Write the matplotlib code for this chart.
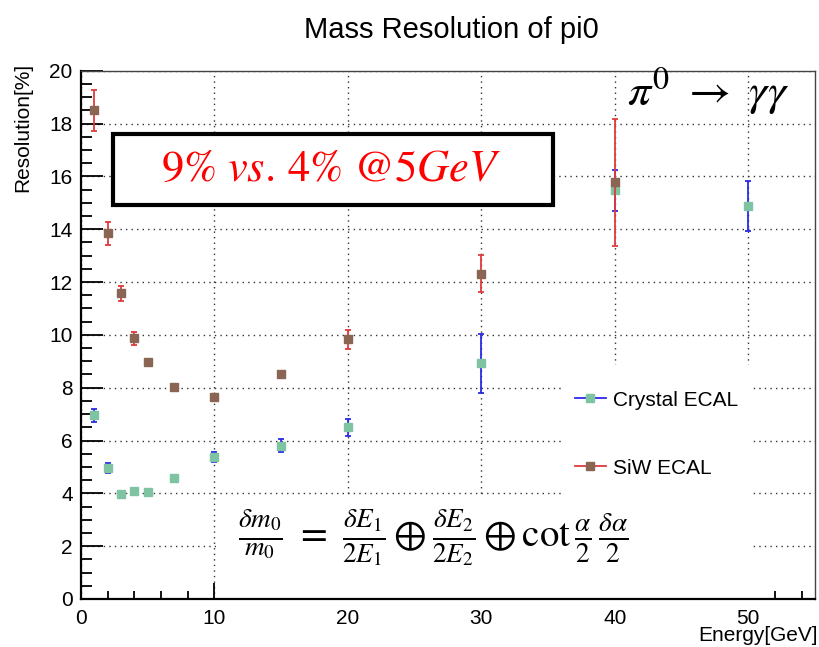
import numpy as np
import matplotlib
matplotlib.use('Agg')
from matplotlib import pyplot as plt
from matplotlib.patches import Rectangle
from matplotlib.lines import Line2D
from matplotlib.ticker import MultipleLocator

plt.rcParams['font.family'] = ['Liberation Sans', 'DejaVu Sans']
plt.rcParams['mathtext.fontset'] = 'stix'

# Crystal ECAL
crystal_e = [1, 2, 3, 4, 5, 7, 10, 15, 20, 30, 40, 50]
crystal_res = [6.95, 4.95, 3.98, 4.1, 4.04, 4.58, 5.37, 5.8, 6.5, 8.92, 15.48, 14.88]
crystal_err = [0.25, 0.18, 0.0, 0.0, 0.0, 0.13, 0.2, 0.24, 0.33, 1.12, 0.78, 0.95]

# SiW ECAL
siw_e = [1, 2, 3, 4, 5, 7, 10, 15, 20, 30, 40]
siw_res = [18.5, 13.85, 11.57, 9.87, 8.97, 8.02, 7.65, 8.52, 9.83, 12.32, 15.78]
siw_err = [0.77, 0.44, 0.27, 0.25, 0.0, 0.0, 0.0, 0.1, 0.35, 0.7, 2.4]

green = '#7fc4a2'
brown = '#8a6553'
blue = '#2a2ae8'
red = '#e03a3a'

fig = plt.figure(figsize=(8.2, 6.47), dpi=100)
ax = fig.add_axes([0.0988, 0.0742, 0.8951, 0.8165])

ax.set_xlim(0, 55)
ax.set_ylim(0, 20)
ax.set_axisbelow(True)
ax.grid(True, which='major', color='#333333', linestyle=(0, (1, 3)), linewidth=1.0)

# white areas from the pasted images (hide the grid)
ax.add_patch(Rectangle((36.1, 3.85), 14.2, 5.0, facecolor='white', edgecolor='none', zorder=1))
ax.add_patch(Rectangle((10.1, 0.02), 40.2, 3.83, facecolor='white', edgecolor='none', zorder=1))

ax.errorbar(crystal_e, crystal_res, yerr=crystal_err, fmt='s', ms=6,
            mfc=green, mec=green, ecolor=blue, elinewidth=1.3,
            capsize=2.3, capthick=1.3, zorder=2)
ax.errorbar(siw_e, siw_res, yerr=siw_err, fmt='s', ms=6,
            mfc=brown, mec=brown, ecolor=red, elinewidth=1.3,
            capsize=2.3, capthick=1.3, zorder=3)

# ticks in ROOT style
ax.xaxis.set_major_locator(MultipleLocator(10))
ax.xaxis.set_minor_locator(MultipleLocator(2))
ax.yaxis.set_major_locator(MultipleLocator(2))
ax.yaxis.set_minor_locator(MultipleLocator(0.5))
ax.tick_params(axis='both', which='both', direction='in', top=False, right=False,
               labelsize=15, width=1.3, color='black')
ax.tick_params(axis='y', which='major', length=15.8, pad=6)
ax.tick_params(axis='y', which='minor', length=7.9)
ax.tick_params(axis='x', which='major', length=11.5, pad=7)
ax.tick_params(axis='x', which='minor', length=5.8)

for s in ['left', 'bottom']:
    ax.spines[s].set_linewidth(1.6)
    ax.spines[s].set_color('black')
for s in ['top', 'right']:
    ax.spines[s].set_linewidth(1.0)
    ax.spines[s].set_color('#444444')

ax.set_xlabel('Energy[GeV]', fontsize=15, loc='right')
ax.xaxis.set_label_coords(1.004, -0.052)
ax.set_ylabel('Resolution[%]', fontsize=15, loc='top')
ax.yaxis.set_label_coords(-0.067, 1.015)
fig.text(0.551, 0.953, 'Mass Resolution of pi0', fontsize=21, ha='center', va='center')

handles = [
    Line2D([], [], color=blue, lw=1.3, marker='s', ms=6, mfc=green, mec=green),
    Line2D([], [], color=red, lw=1.3, marker='s', ms=6, mfc=brown, mec=brown),
]
ax.legend(handles, ['Crystal ECAL', 'SiW ECAL'], frameon=False, fontsize=15,
          handlelength=1.5, handletextpad=0.35, labelspacing=2.35,
          loc='upper left', bbox_to_anchor=(0.647, 0.43))

# annotation box
ax.add_patch(Rectangle((2.4, 14.9), 33.0, 2.72, facecolor='white', edgecolor='black',
                       linewidth=3, zorder=4))
ax.text(18.7, 16.25, r'$9\%\ vs.\,4\%\ \mathrm{@}5GeV$', color='red', fontsize=32,
        ha='center', va='center', zorder=5)

ax.text(40.9, 19.2, r'$\pi^0\ \rightarrow\ \gamma\gamma$', fontsize=33,
        ha='left', va='center', zorder=5)

ax.text(26.4, 2.33, r'$\frac{\delta m_0}{m_0}\ =\ \frac{\delta E_1}{2E_1}\oplus\frac{\delta E_2}{2E_2}\oplus\cot\frac{\alpha}{2}\,\frac{\delta\alpha}{2}$',
        fontsize=28, ha='center', va='center', zorder=5)

fig.savefig('out.png', dpi=100)
